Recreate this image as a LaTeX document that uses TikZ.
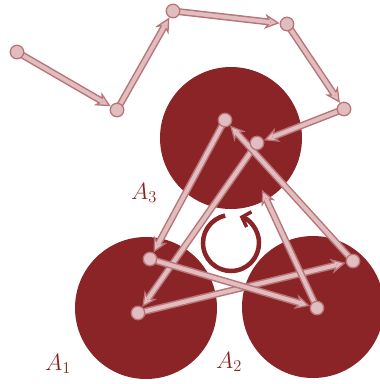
\RequirePackage{fix-cm}
\documentclass[tikz,border=0pt]{standalone}
\usetikzlibrary{arrows.meta,calc}
\definecolor{disk}{RGB}{139,36,38}
\definecolor{pinkc}{RGB}{224,190,192}
\definecolor{rim}{RGB}{186,116,120}
\pgfdeclarelayer{back}
\pgfdeclarelayer{lines}
\pgfsetlayers{back,lines,main}
\begin{document}
\begin{tikzpicture}[x=1pt,y=-1pt,
  dot/.style={circle, fill=pinkc, draw=rim, line width=1.3pt, minimum size=13.5pt, inner sep=0pt},
  region/.style={circle, fill=disk, minimum size=142pt, inner sep=0pt},
  outerseg/.style={draw=rim, line width=7pt,
    -{Stealth[length=15pt,width=15pt,inset=4.5pt,line width=1.3pt,fill=pinkc]}},
  innerseg/.style={draw=pinkc, line width=4pt, shorten >=9.5pt},
  lab/.style={text=disk, font=\fontsize{23.5}{28}\selectfont, inner sep=0pt, anchor=base west},
  cyc/.style={draw=disk, line width=4.5pt, -{Straight Barb[length=7.5pt,width=16pt,line width=3.5pt]}}]
\useasboundingbox (0,0) rectangle (380,384);
\begin{pgfonlayer}{back}
  \node[region] (A1) at (146,308) {};
  \node[region] (A2) at (313,307) {};
  \node[region] (A3) at (231,138) {};
  \coordinate (c) at (231,243);
  \draw[cyc] ($(c)+(258:28)$) arc[start angle=258, end angle=-72, radius=28];
\end{pgfonlayer}
\node[lab] (l1) at (45,370) {$A_1$};
\node[lab] (l2) at (216,368) {$A_2$};
\node[lab] (l3) at (131,199) {$A_3$};
\node[dot] (d1) at (17,52) {};
\node[dot] (d2) at (117,110) {};
\node[dot] (d3) at (173,11) {};
\node[dot] (d4) at (287,24) {};
\node[dot] (d5) at (344,109) {};
\node[dot] (d6) at (257,143) {};
\node[dot] (d7) at (138,313) {};
\node[dot] (d8) at (353,261) {};
\node[dot] (d9) at (225,120) {};
\node[dot] (d10) at (150,259) {};
\node[dot] (d11) at (317,308) {};
\coordinate (e) at (262,190);
\begin{pgfonlayer}{lines}
  \foreach \a/\b in {d1/d2,d2/d3,d3/d4,d4/d5,d5/d6,d6/d7,d7/d8,d8/d9,d9/d10,d10/d11,d11/e}{
    \draw[outerseg] (\a.center) -- (\b);
    \draw[innerseg] (\a.center) -- (\b);
  }
\end{pgfonlayer}
\end{tikzpicture}
\end{document}
